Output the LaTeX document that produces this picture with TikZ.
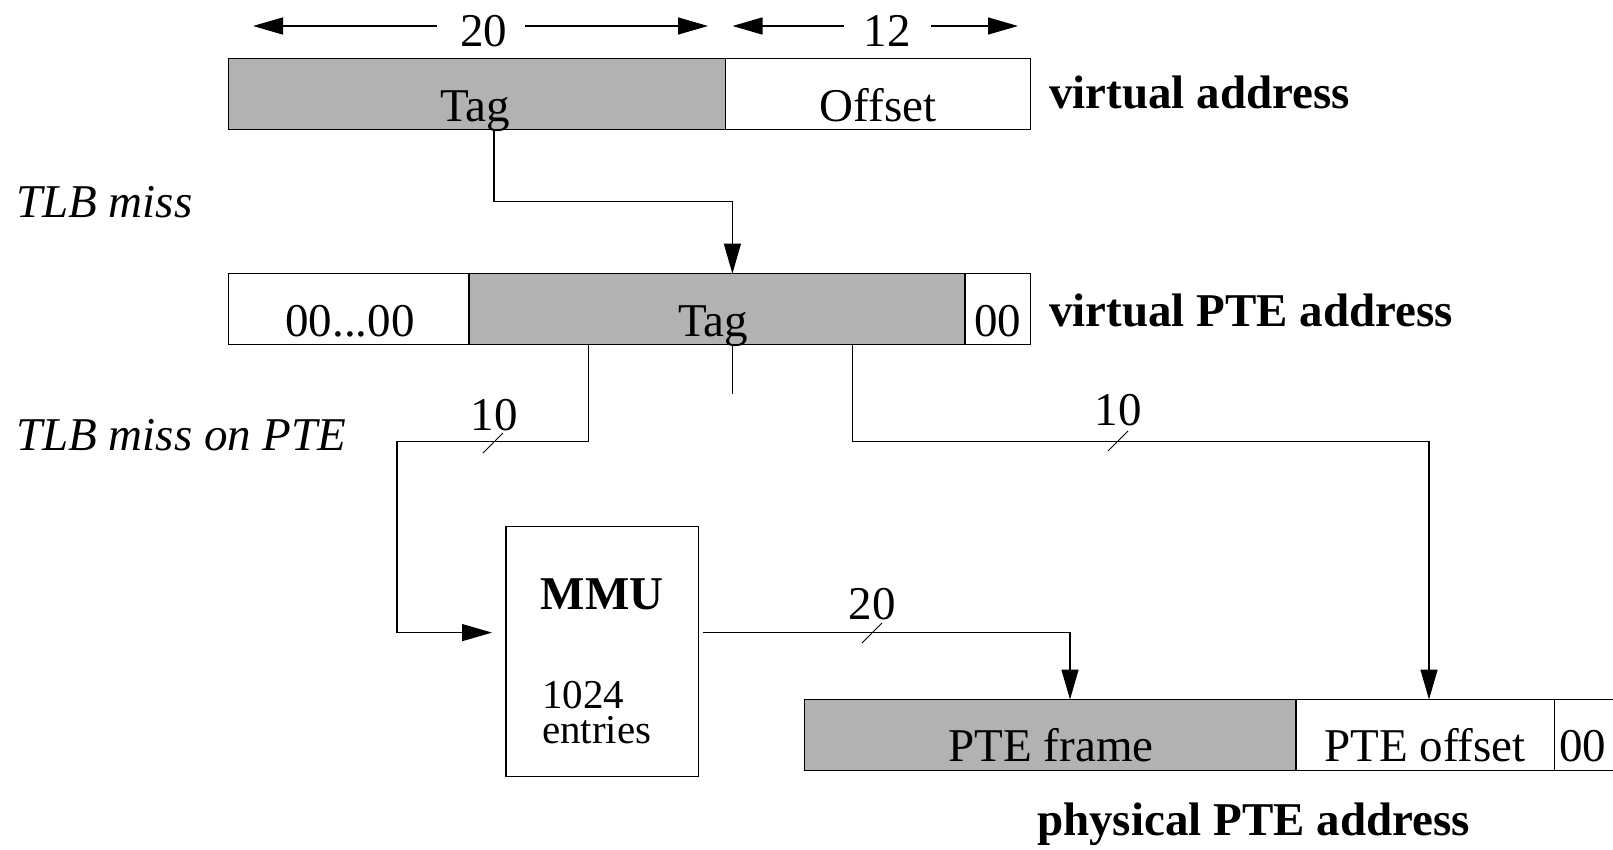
\documentclass[tikz,border=0pt]{standalone}
\usepackage{fontspec}
\setmainfont{Liberation Serif}
\usetikzlibrary{arrows.meta,calc}
\definecolor{fieldgray}{gray}{0.7}
\begin{document}
\begin{tikzpicture}[x=1pt,y=-1pt,
  field/.style={draw=black, line width=1.3pt, minimum height=71pt, inner sep=0pt, outer sep=0pt, anchor=north west},
  shaded/.style={fill=fieldgray},
  lbl/.style={inner sep=0pt, anchor=base, font=\fontsize{47}{56}\selectfont},
  lblw/.style={inner sep=0pt, anchor=base west, font=\fontsize{47}{56}\selectfont},
  small/.style={inner sep=0pt, anchor=base west, align=left, font=\fontsize{41}{35}\selectfont},
  wire/.style={line width=1.3pt},
  arr/.style={wire, -{Triangle[length=30pt,width=17pt]}},
  slash/.style={line width=1pt}
]
\useasboundingbox (0,0) rectangle (1613,849);

% ---------- virtual address ----------
\node[field, shaded, minimum width=496.8pt] (vatag) at (228.4,58.6) {};
\node[field, minimum width=305.6pt] (vaoff) at (725.2,58.6) {};
\node[lbl] (vatagt) at (475,121.4) {Tag};
\node[lbl] (vaofft) at (878,121.4) {Offset};
\node[lblw, font=\fontsize{47}{56}\selectfont\bfseries] (valbl) at (1049,108) {virtual address};

% dimension arrows
\node[lbl] (d20) at (483.5,46) {20};
\node[lbl] (d12) at (887,46) {12};
\coordinate (d20a) at (437,26);
\coordinate (d20b) at (253,26);
\coordinate (d20c) at (525,26);
\coordinate (d20d) at (708,26);
\coordinate (d12a) at (843.5,26);
\coordinate (d12b) at (732.5,26);
\coordinate (d12c) at (931,26);
\coordinate (d12d) at (1018,26);
\draw[arr] (d20a) -- (d20b);
\draw[arr] (d20c) -- (d20d);
\draw[arr] (d12a) -- (d12b);
\draw[arr] (d12c) -- (d12d);

% side labels
\node[lblw, font=\fontsize{47}{56}\selectfont\itshape] (miss1) at (16,217) {TLB miss};
\node[lblw, font=\fontsize{47}{56}\selectfont\itshape] (miss2) at (16,450) {TLB miss on PTE};

% ---------- virtual PTE address ----------
\node[field, minimum width=240.6pt] (pazero) at (228.4,273.6) {};
\node[field, shaded, minimum width=496pt] (patag) at (469,273.6) {};
\node[field, minimum width=65.8pt] (pa00) at (965,273.6) {};
\node[lbl] (pazerot) at (350,336.4) {00...00};
\node[lbl] (patagt) at (713,336.4) {Tag};
\node[lbl] (pa00t) at (997.9,336.4) {00};
\node[lblw, font=\fontsize{47}{56}\selectfont\bfseries] (palbl) at (1049,326) {virtual PTE address};

% ---------- MMU ----------
\node[field, minimum width=192.5pt, minimum height=250pt] (mmu) at (506,526.7) {};
\node[lbl, font=\fontsize{47}{56}\selectfont\bfseries] (mmut) at (602,609) {MMU};
\node[small] (mmun) at (542,743) {1024\\entries};

% ---------- physical PTE address ----------
\node[field, shaded, minimum width=491.6pt] (ppframe) at (804.4,699.5) {};
\node[field, minimum width=258.4pt] (ppoff) at (1296,699.5) {};
\node[field, minimum width=80pt] (pp00) at (1554.4,699.5) {};
\node[lbl] (ppframet) at (1051,761) {PTE frame};
\node[lbl] (ppofft) at (1425,761) {PTE offset};
\node[lblw] (pp00t) at (1559,761) {00};
\node[lbl, font=\fontsize{47}{56}\selectfont\bfseries] (pplbl) at (1253.5,835) {physical PTE address};

% ---------- connectors ----------
\coordinate (c1) at (494,201.6);
\coordinate (c2) at (732.4,201.6);
\draw[arr] (vatag.south -| c1) -- (c1) -- (c2) -- (patag.north -| c2);

\coordinate (l1) at (588.4,441.3);
\coordinate (l2) at (397,441.3);
\coordinate (l3) at (397,632.6);
\draw[arr, shorten >=14pt] (patag.south -| l1) -- (l1) -- (l2) -- (l3) -- (mmu.west |- l3);

\coordinate (s1) at (732.4,394);
\draw[wire] (patag.south -| s1) -- (s1);

\coordinate (r1) at (852.8,441.3);
\coordinate (r2) at (1429,441.3);
\draw[arr] (patag.south -| r1) -- (r1) -- (r2) -- (ppoff.north -| r2);

\coordinate (m1) at (1070,632.6);
\draw[arr, shorten <=4pt] (mmu.east |- m1) -- (m1) -- (ppframe.north -| m1);

% bus width marks
\node[lbl] (w10a) at (494,430) {10};
\node[lbl] (w10b) at (1118,425) {10};
\node[lbl] (w20) at (872,619) {20};
\draw[slash] (483,453) -- (503,433);
\draw[slash] (1108,451) -- (1128,431);
\draw[slash] (862,643) -- (882,623);
\end{tikzpicture}
\end{document}
